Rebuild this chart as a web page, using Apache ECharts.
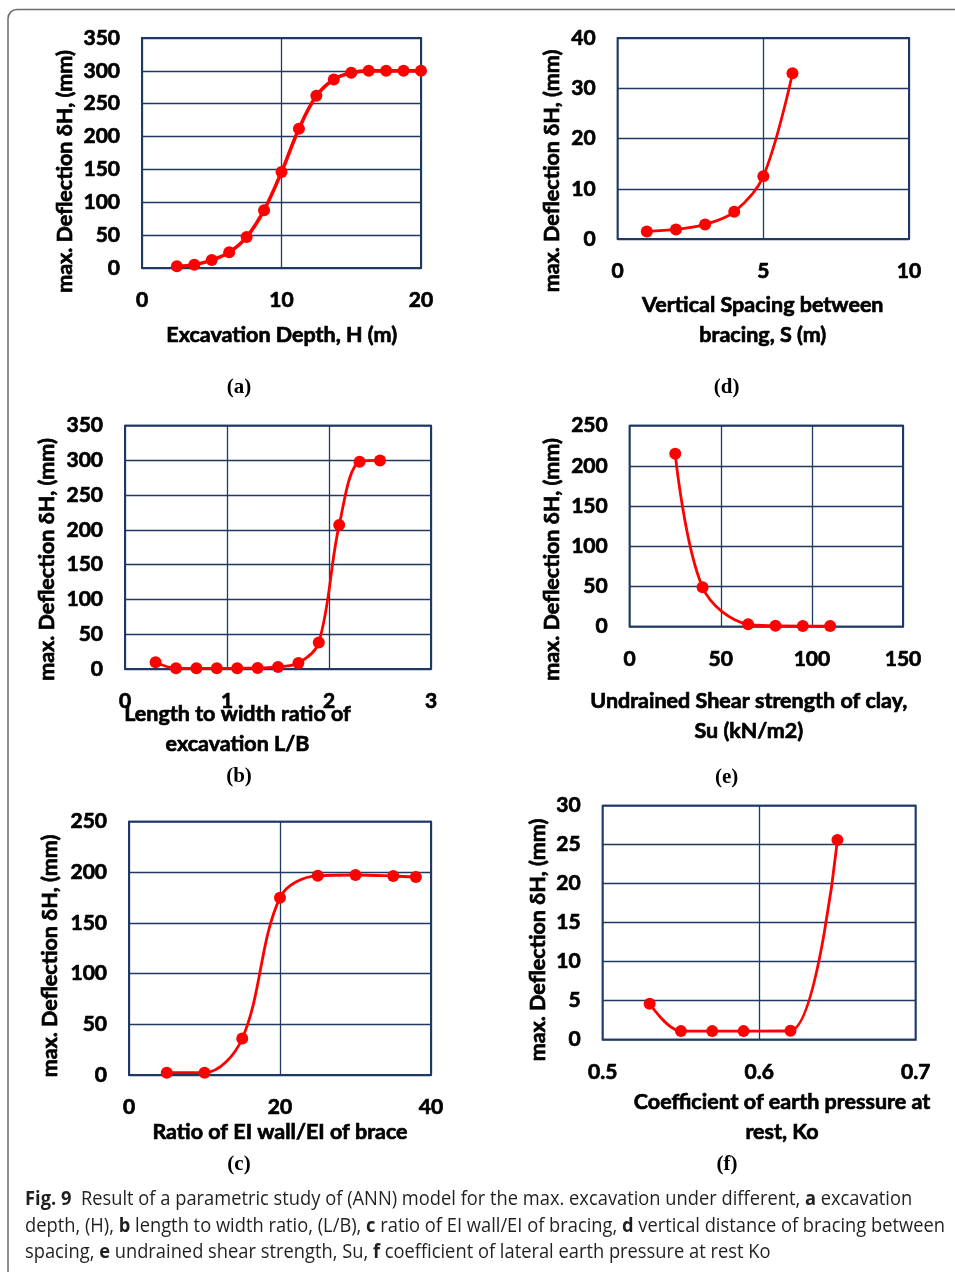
<!DOCTYPE html>
<html>
<head>
<meta charset="utf-8">
<script src="https://cdn.jsdelivr.net/npm/echarts@6/dist/echarts.min.js"></script>
<style>
html,body{margin:0;padding:0;background:#fff;}
#chart{width:955px;height:1272px;}
</style>
</head>
<body>
<div id="chart"></div>
<script>
// ---- Data ----
const aX = [2.5, 3.75, 5, 6.25, 7.5, 8.75, 10, 11.25, 12.5, 13.75, 15, 16.25, 17.5, 18.75, 20];
const aY = [2.5, 5, 12, 24, 47, 88, 146, 212, 262, 287, 297, 300, 300, 300, 300];
const bX = [0.3, 0.5, 0.7, 0.9, 1.1, 1.3, 1.5, 1.7, 1.9, 2.1, 2.3, 2.5];
const bY = [9.6, 1, 1, 1, 1, 1.5, 3, 8.6, 38, 207, 298, 300];
const cX = [5, 10, 15, 20, 25, 30, 35, 38];
const cY = [2.3, 2.3, 36, 175, 196.7, 197.4, 196.4, 195.4];
const dX = [1, 2, 3, 4, 5, 6];
const dY = [1.5, 1.9, 2.9, 5.4, 12.5, 33];
const eX = [25, 40, 65, 80, 95, 110];
const eY = [215, 49, 3, 1.2, 0.8, 0.8];
const fX = [0.53, 0.55, 0.57, 0.59, 0.62, 0.65];
const fY = [4.6, 1.1, 1.1, 1.1, 1.15, 25.6];

const yTitle = 'max. Deflection δH, (mm)';
const xTitles = {
  a: 'Excavation Depth, H (m)',
  d: 'Vertical Spacing between\nbracing, S (m)',
  b: 'Length to width ratio of\nexcavation L/B',
  e: 'Undrained Shear strength of clay,\nSu (kN/m2)',
  c: 'Ratio of EI wall/EI of brace',
  f: 'Coefficient of earth pressure at\nrest, Ko'
};
const panelLabels = ['(a)', '(d)', '(b)', '(e)', '(c)', '(f)'];
const captionLines = [
  '{b|Fig. 9}  Result of a parametric study of (ANN) model for the max. excavation under different, {b|a} excavation',
  'depth, (H), {b|b} length to width ratio, (L/B), {b|c} ratio of EI wall/EI of bracing, {b|d} vertical distance of bracing between',
  'spacing, {b|e} undrained shear strength, Su, {b|f} coefficient of lateral earth pressure at rest Ko'
];

// ---- Layout ----
const FONT = 'Lato';
const NAVY = '#1f3864';
const panels = [
  {key:'a', xs:aX, ys:aY, lw:3.6, grid:{left:142, top:38, width:279, height:230}, x:[0,20,10], y:[0,350,50],
   yt:[65,171.5], xt:[281.7,335], lab:[239,388]},
  {key:'d', xs:dX, ys:dY, lw:2.8, grid:{left:617.7, top:38, width:291.3, height:201}, x:[0,10,5], y:[0,40,10],
   yt:[551.7,171], xt:[762.8,320], lab:[726.7,388]},
  {key:'b', xs:bX, ys:bY, lw:2.8, grid:{left:125, top:425.7, width:306, height:243.3}, x:[0,3,1], y:[0,350,50],
   yt:[46.7,559.5], xt:[237.5,729.5], lab:[239,776.7]},
  {key:'e', xs:eX, ys:eY, lw:2.8, grid:{left:629.7, top:425.7, width:273.3, height:201}, x:[0,150,50], y:[0,250,50],
   yt:[551.7,559.5], xt:[748.8,716], lab:[726.7,777.7]},
  {key:'c', xs:cX, ys:cY, lw:2.8, grid:{left:129, top:821.7, width:302, height:253.3}, x:[0,40,20], y:[0,250,50],
   yt:[50,956], xt:[280,1131.7], lab:[239,1165]},
  {key:'f', xs:fX, ys:fY, lw:2.8, grid:{left:602.7, top:805.7, width:313, height:234}, x:[0.5,0.7,0.1], y:[0,30,5],
   yt:[538,940], xt:[782,1117.5], lab:[727,1165]}
];

const boldText = {textBorderColor:'#000', textBorderWidth:0.7};
const grids = [], xAxes = [], yAxes = [], series = [], graphics = [];
panels.forEach((p, i) => {
  grids.push(Object.assign({show:true, borderColor:NAVY, borderWidth:2, backgroundColor:'transparent'}, p.grid));
  const axisCommon = {
    gridIndex:i, type:'value',
    axisLine:{show:false}, axisTick:{show:false},
    splitLine:{show:true, lineStyle:{color:NAVY, width:1.3}},
    axisLabel:Object.assign({color:'#000', fontFamily:FONT, fontWeight:'bold', fontSize:21, margin:22}, boldText)
  };
  xAxes.push(Object.assign({}, axisCommon, {min:p.x[0], max:p.x[1], interval:p.x[2]}));
  yAxes.push(Object.assign({}, axisCommon, {min:p.y[0], max:p.y[1], interval:p.y[2]}));
  series.push({
    type:'line', xAxisIndex:i, yAxisIndex:i,
    data:p.xs.map((x, k) => [x, p.ys[k]]),
    smooth:0.35, symbol:'circle', symbolSize:12,
    lineStyle:{color:'#ff0000', width:p.lw},
    itemStyle:{color:'#ff0000'},
    z:5
  });
  graphics.push({
    type:'text', x:p.yt[0], y:p.yt[1], rotation:Math.PI/2,
    style:Object.assign({text:yTitle, font:'bold 21.5px ' + FONT, fill:'#000', textAlign:'center', textVerticalAlign:'middle',
      stroke:'#000', lineWidth:0.7})
  });
  graphics.push({
    type:'text', x:p.xt[0], y:p.xt[1],
    style:{text:xTitles[p.key], font:'bold 21.5px ' + FONT, fill:'#000', textAlign:'center', textVerticalAlign:'middle', lineHeight:30,
      stroke:'#000', lineWidth:0.7}
  });
  graphics.push({
    type:'text', x:p.lab[0], y:p.lab[1],
    style:{text:panelLabels[i], font:'bold 21px "Liberation Serif"', fill:'#000', textAlign:'center', textVerticalAlign:'middle'}
  });
});

// caption with horizontal compression to mimic condensed font
const capFont = '20px "Open Sans"';
const cv = document.createElement('canvas').getContext('2d');
function plainWidth(line){
  let w = 0;
  const parts = line.split(/(\{b\|[^}]*\})/);
  parts.forEach(s => {
    if (!s) return;
    const m = s.match(/^\{b\|([^}]*)\}$/);
    if (m) { cv.font = 'bold ' + capFont; w += cv.measureText(m[1]).width; }
    else { cv.font = capFont; w += cv.measureText(s).width; }
  });
  return w;
}
const capScale = 920 / plainWidth(captionLines[1]);
const capY = [1199, 1226, 1252];
captionLines.forEach((line, k) => {
  graphics.push({
    type:'text', x:25, y:capY[k], scaleX:capScale,
    style:{text:line, font:capFont, fill:'#231f20', textVerticalAlign:'middle',
      rich:{b:{fontWeight:'bold', fontFamily:'Open Sans', fontSize:20, fill:'#231f20'}}}
  });
});

// outer frame
graphics.push({
  type:'rect', shape:{x:8, y:9.5, width:960, height:1270, r:9},
  style:{fill:'none', stroke:'#6b6b6b', lineWidth:1.5}, z:-1
});

const chart = echarts.init(document.getElementById('chart'), null, {renderer:'canvas'});
chart.setOption({
  animation:false,
  backgroundColor:'#fff',
  grid:grids, xAxis:xAxes, yAxis:yAxes, series:series, graphic:graphics
});
</script>
</body>
</html>
